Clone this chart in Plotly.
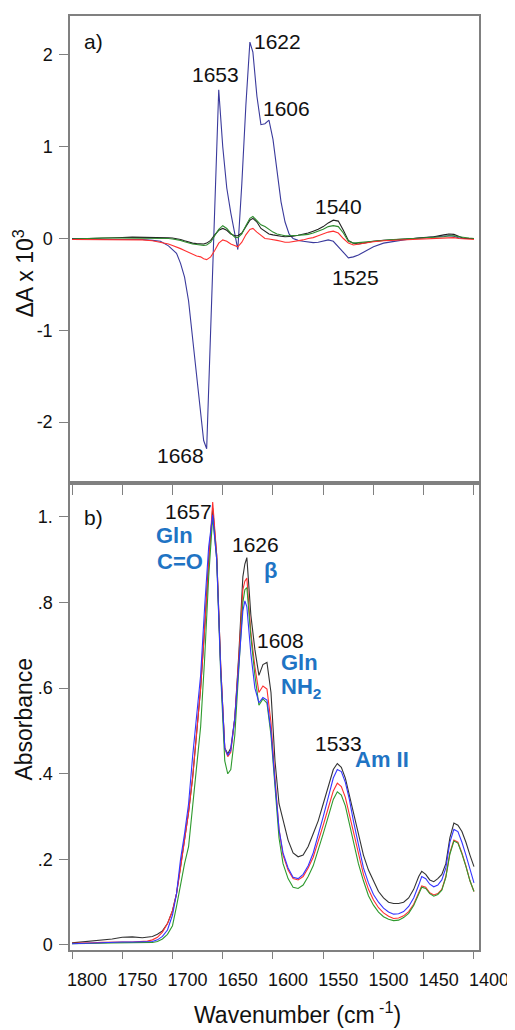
import plotly.graph_objects as go

# ---------------- data: panel a) difference spectra ----------------
wn_a = [1800, 1790, 1780, 1770, 1760, 1750, 1740, 1730, 1720, 1712, 1704, 1700, 1696, 1692, 1688, 1684,
        1680, 1676, 1672, 1669, 1666, 1662, 1658, 1654, 1650, 1646, 1642, 1638, 1635, 1631, 1627, 1623,
        1620, 1616, 1612, 1608, 1604, 1600, 1596, 1592, 1588, 1584, 1580, 1575, 1570, 1565, 1560, 1555,
        1550, 1545, 1540, 1535, 1530, 1525, 1520, 1515, 1510, 1500, 1490, 1480, 1470, 1460, 1450, 1440,
        1430, 1425, 1420, 1415, 1410, 1405, 1400]
navy_a = [0.0, 0.0, -0.005, -0.01, -0.01, -0.01, -0.01, -0.01, -0.02, -0.03, -0.08, -0.12, -0.16, -0.27, -0.42, -0.68,
          -1.08, -1.45, -1.88, -2.2, -2.29, -0.99, 0.31, 1.62, 1.0, 0.55, 0.28, 0.05, -0.12, 0.6, 1.45, 2.14,
          2.03, 1.55, 1.24, 1.25, 1.29, 1.08, 0.73, 0.4, 0.18, 0.05, 0.0, -0.02, -0.03, -0.04, -0.045, -0.04,
          -0.03, -0.015, -0.03, -0.09, -0.16, -0.21, -0.2, -0.18, -0.15, -0.09, -0.05, -0.03, -0.015, 0.0, 0.01, 0.02,
          0.03, 0.03, 0.025, 0.005, 0.0, 0.0, 0.0]
black_a = [-0.005, 0.0, 0.005, 0.01, 0.01, 0.012, 0.015, 0.015, 0.012, 0.01, 0.008, 0.005, 0.0, -0.01, -0.025, -0.04,
           -0.05, -0.055, -0.06, -0.06, -0.05, -0.02, 0.04, 0.09, 0.11, 0.09, 0.05, 0.03, 0.03, 0.06, 0.13, 0.2,
           0.22, 0.18, 0.11, 0.08, 0.05, 0.04, 0.03, 0.025, 0.02, 0.02, 0.025, 0.035, 0.045, 0.06, 0.08, 0.1,
           0.13, 0.17, 0.2, 0.19, 0.09, -0.02, -0.05, -0.06, -0.05, -0.03, -0.02, -0.015, -0.01, 0.0, 0.01, 0.02,
           0.04, 0.05, 0.045, 0.02, 0.0, 0.0, 0.0]
green_a = [-0.005, 0.0, 0.0, 0.005, 0.005, 0.005, 0.005, 0.005, 0.005, 0.0, 0.0, -0.005, -0.01, -0.02, -0.035, -0.05,
           -0.06, -0.065, -0.07, -0.075, -0.07, -0.04, 0.03, 0.1, 0.14, 0.11, 0.06, 0.015, 0.01, 0.05, 0.14, 0.22,
           0.24, 0.2, 0.15, 0.13, 0.1, 0.07, 0.05, 0.04, 0.03, 0.03, 0.03, 0.035, 0.04, 0.045, 0.06, 0.08,
           0.1, 0.13, 0.14, 0.13, 0.06, -0.03, -0.05, -0.045, -0.04, -0.025, -0.015, -0.01, -0.005, 0.0, 0.005, 0.01,
           0.02, 0.03, 0.03, 0.02, 0.01, 0.005, 0.0]
red_a = [-0.01, -0.01, -0.01, -0.01, -0.01, -0.01, -0.01, -0.015, -0.025, -0.04, -0.06, -0.075, -0.09, -0.11, -0.13, -0.15,
         -0.175, -0.19, -0.2, -0.22, -0.23, -0.2, -0.13, -0.05, -0.015, -0.03, -0.06, -0.08, -0.09, -0.04, 0.04, 0.1,
         0.11, 0.07, 0.03, 0.0, -0.005, -0.01, -0.02, -0.03, -0.04, -0.04, -0.035, -0.025, -0.015, 0.0, 0.01, 0.03,
         0.05, 0.07, 0.08, 0.06, 0.0, -0.05, -0.07, -0.06, -0.05, -0.035, -0.025, -0.02, -0.015, -0.01, -0.005, 0.0,
         0.005, 0.01, 0.01, 0.0, -0.005, -0.01, -0.01]

# ---------------- data: panel b) absorbance spectra ----------------
wn_b = [1800, 1790, 1780, 1770, 1760, 1750, 1740, 1730, 1725, 1720, 1715, 1710, 1705, 1700, 1696, 1692,
        1688, 1684, 1680, 1676, 1672, 1668, 1664, 1660, 1656, 1652, 1648, 1645, 1642, 1638, 1634, 1630,
        1628, 1626, 1622, 1618, 1614, 1610, 1606, 1602, 1598, 1594, 1590, 1585, 1580, 1575, 1570, 1565,
        1560, 1555, 1550, 1545, 1540, 1536, 1532, 1528, 1524, 1520, 1515, 1510, 1505, 1500, 1495, 1490,
        1485, 1480, 1475, 1470, 1465, 1460, 1455, 1452, 1448, 1444, 1440, 1436, 1432, 1428, 1424, 1420,
        1416, 1412, 1408, 1404, 1400]
black_b = [0.005, 0.007, 0.009, 0.011, 0.014, 0.018, 0.019, 0.017, 0.018, 0.02, 0.025, 0.033, 0.05, 0.08, 0.12, 0.18,
           0.24, 0.31, 0.39, 0.49, 0.6, 0.74, 0.9, 1.02, 0.91, 0.65, 0.46, 0.447, 0.46, 0.53, 0.68, 0.86,
           0.89, 0.905, 0.77, 0.69, 0.63, 0.655, 0.66, 0.59, 0.43, 0.33, 0.29, 0.245, 0.215, 0.206, 0.21, 0.23,
           0.26, 0.29, 0.33, 0.37, 0.41, 0.424, 0.415, 0.39, 0.35, 0.31, 0.26, 0.21, 0.175, 0.15, 0.125, 0.11,
           0.1, 0.097, 0.097, 0.1, 0.11, 0.13, 0.16, 0.172, 0.165, 0.152, 0.148, 0.155, 0.165, 0.19, 0.25, 0.285,
           0.28, 0.265, 0.24, 0.21, 0.183]
red_b = [0.004, 0.004, 0.005, 0.006, 0.007, 0.007, 0.007, 0.008, 0.009, 0.012, 0.018, 0.03, 0.05, 0.08, 0.12, 0.18,
         0.24, 0.31, 0.39, 0.49, 0.6, 0.74, 0.9, 1.035, 0.91, 0.65, 0.46, 0.44, 0.45, 0.53, 0.67, 0.83,
         0.85, 0.857, 0.73, 0.65, 0.59, 0.605, 0.598, 0.52, 0.39, 0.27, 0.21, 0.175, 0.155, 0.152, 0.16, 0.18,
         0.205, 0.24, 0.28, 0.32, 0.36, 0.378, 0.37, 0.345, 0.305, 0.26, 0.21, 0.165, 0.13, 0.105, 0.087, 0.075,
         0.067, 0.062, 0.063, 0.068, 0.078, 0.095, 0.122, 0.138, 0.135, 0.122, 0.117, 0.12, 0.13, 0.16, 0.215, 0.245,
         0.24, 0.215, 0.185, 0.15, 0.125]
green_b = [0.003, 0.003, 0.004, 0.004, 0.005, 0.005, 0.005, 0.005, 0.005, 0.006, 0.008, 0.014, 0.025, 0.045, 0.09, 0.14,
           0.19, 0.23, 0.32, 0.41, 0.51, 0.67, 0.86, 1.0, 0.9, 0.63, 0.43, 0.4, 0.41, 0.49, 0.64, 0.8,
           0.83, 0.835, 0.72, 0.63, 0.56, 0.575, 0.565, 0.49, 0.37, 0.25, 0.19, 0.155, 0.135, 0.132, 0.14, 0.16,
           0.185, 0.22, 0.26, 0.3, 0.34, 0.358, 0.35, 0.325, 0.285, 0.24, 0.19, 0.15, 0.115, 0.093, 0.077, 0.066,
           0.06, 0.057, 0.058, 0.064, 0.074, 0.092, 0.12, 0.135, 0.132, 0.12, 0.114, 0.118, 0.128, 0.158, 0.212, 0.243,
           0.238, 0.213, 0.183, 0.15, 0.125]
blue_b = [0.003, 0.004, 0.005, 0.006, 0.007, 0.007, 0.007, 0.007, 0.007, 0.008, 0.012, 0.02, 0.035, 0.07, 0.12, 0.2,
          0.26, 0.33, 0.44, 0.53, 0.63, 0.79, 0.93, 1.005, 0.9, 0.64, 0.46, 0.443, 0.455, 0.53, 0.66, 0.78,
          0.804, 0.79, 0.68, 0.6, 0.566, 0.578, 0.572, 0.5, 0.38, 0.27, 0.215, 0.18, 0.158, 0.155, 0.165, 0.185,
          0.215, 0.255, 0.3, 0.345, 0.39, 0.41, 0.405, 0.38, 0.34, 0.29, 0.235, 0.18, 0.145, 0.118, 0.1, 0.086,
          0.077, 0.072, 0.073, 0.078, 0.09, 0.11, 0.14, 0.16, 0.155, 0.142, 0.136, 0.14, 0.152, 0.18, 0.24, 0.27,
          0.265, 0.24, 0.21, 0.175, 0.145]

x_ticks = [1800, 1750, 1700, 1650, 1600, 1550, 1500, 1450, 1400]
x_ticktext = ["1800", "1750", "1700", "1650", "1600", "1550", "1500", "1450", "1400"]
ya_ticks = [-2, -1, 0, 1, 2]
ya_ticktext = ["-2", "-1", "0", "1", "2"]
yb_ticks = [0, 0.2, 0.4, 0.6, 0.8, 1.0]
yb_ticktext = ["0", ".2", ".4", ".6", ".8", "1."]

# peak labels (text, wavenumber, value)
labels_a = [("1653", 1657.1, 1.79), ("1622", 1595.7, 2.15), ("1606", 1586.9, 1.42),
            ("1540", 1535.0, 0.35), ("1525", 1518.1, -0.42), ("1668", 1691.8, -2.36)]
labels_b = [("1657", 1683.9, 1.012), ("1626", 1617.1, 0.935), ("1608", 1592.6, 0.711),
            ("1533", 1535.0, 0.471)]
assign_b = [("<b>Gln</b>", 1697.8, 0.956), ("<b>C=O</b>", 1692.8, 0.895), ("<b>β</b>", 1602.5, 0.874),
            ("<b>Gln</b>", 1573.7, 0.660), ("<b>NH<sub>2</sub></b>", 1571.7, 0.600),
            ("<b>Am II</b>", 1491.8, 0.434)]

FONT = "Arial, Liberation Sans, sans-serif"
AXC = "#808080"
TXT = "#111111"
ASSIGN = "#1f74c4"

# the page body adds an 8 px offset; the figure is sized so the plot frame lands at
# x 70..480 and y 14..950 of the window
OFF = 8
W, H = 507, 1022
ML, MR, MT, MB = 62, 35, 6, 80
PW = W - ML - MR
PH = H - MT - MB


def px_x(px):
    return (px - OFF - ML) / PW


def px_y(py):
    return (H - MB - (py - OFF)) / PH


fig = go.Figure()
for vals, col in [(navy_a, "#3a3a9c"), (black_a, "#222222"), (green_a, "#2e8b2e"), (red_a, "#ff3030")]:
    fig.add_trace(go.Scatter(x=wn_a, y=vals, mode="lines", line=dict(color=col, width=1.1),
                             xaxis="x", yaxis="y", showlegend=False))
for vals, col in [(black_b, "#333333"), (red_b, "#ff3030"), (green_b, "#2e9a2e"), (blue_b, "#3535ff")]:
    fig.add_trace(go.Scatter(x=wn_b, y=vals, mode="lines", line=dict(color=col, width=1.1),
                             xaxis="x2", yaxis="y2", showlegend=False))

common_x = dict(range=[1802, 1395], tickvals=x_ticks, ticktext=x_ticktext, showgrid=False, zeroline=False,
                showline=True, linecolor=AXC, linewidth=1.5, mirror=True, ticks="outside",
                tickcolor=AXC, tickwidth=1.3)
fig.update_layout(
    width=W, height=H,
    margin=dict(l=ML, r=MR, t=MT, b=MB),
    paper_bgcolor="white", plot_bgcolor="white",
    showlegend=False,
    font=dict(family=FONT, color=TXT),
    xaxis=dict(common_x, domain=[0, 1], anchor="y", ticklen=10, showticklabels=False),
    yaxis=dict(domain=[0.5, 1], anchor="x", range=[-2.663, 2.424], tickvals=ya_ticks, ticktext=ya_ticktext,
               showgrid=False, zeroline=False, showline=True, linecolor=AXC, linewidth=1.5, mirror=True,
               ticks="outside", ticklen=9, tickcolor=AXC, tickwidth=1.3, tickfont=dict(size=18, color=TXT),
               ticklabelstandoff=3),
    xaxis2=dict(common_x, domain=[0, 1], anchor="y2", ticklen=7, showticklabels=True,
                tickfont=dict(size=18, color=TXT), ticklabelstandoff=6, ticklabelshift=-15),
    yaxis2=dict(domain=[0, 0.5], anchor="x2", range=[-0.0117, 1.0793], tickvals=yb_ticks, ticktext=yb_ticktext,
                showgrid=False, zeroline=False, showline=True, linecolor=AXC, linewidth=1.5, mirror=True,
                ticks="outside", ticklen=9, tickcolor=AXC, tickwidth=1.3, tickfont=dict(size=18, color=TXT),
                ticklabelstandoff=3),
)

ann = []
ann.append(dict(text="a)", x=1778.4, y=2.15, xref="x", yref="y", showarrow=False,
                font=dict(size=21, color=TXT)))
ann.append(dict(text="b)", x=1778.4, y=0.998, xref="x2", yref="y2", showarrow=False,
                font=dict(size=21, color=TXT)))
for t, xv, yv in labels_a:
    ann.append(dict(text=t, x=xv, y=yv, xref="x", yref="y", showarrow=False, font=dict(size=21, color=TXT)))
for t, xv, yv in labels_b:
    ann.append(dict(text=t, x=xv, y=yv, xref="x2", yref="y2", showarrow=False, font=dict(size=21, color=TXT)))
for t, xv, yv in assign_b:
    ann.append(dict(text=t, x=xv, y=yv, xref="x2", yref="y2", showarrow=False, font=dict(size=22, color=ASSIGN)))
# axis titles
ann.append(dict(text="ΔA x 10<sup>3</sup>", x=px_x(24), y=px_y(272), xref="paper", yref="paper",
                xanchor="center", yanchor="middle",
                showarrow=False, textangle=-90, font=dict(size=23, color=TXT)))
ann.append(dict(text="Absorbance", x=px_x(24), y=px_y(719), xref="paper", yref="paper",
                xanchor="center", yanchor="middle",
                showarrow=False, textangle=-90, font=dict(size=23, color=TXT)))
ann.append(dict(text="Wavenumber (cm<sup> -1</sup>)", x=px_x(298), y=px_y(1013), xref="paper",
                yref="paper", xanchor="center", yanchor="middle",
                showarrow=False, font=dict(size=23, color=TXT)))
fig.update_layout(annotations=ann)

fig.write_html("out.html")
